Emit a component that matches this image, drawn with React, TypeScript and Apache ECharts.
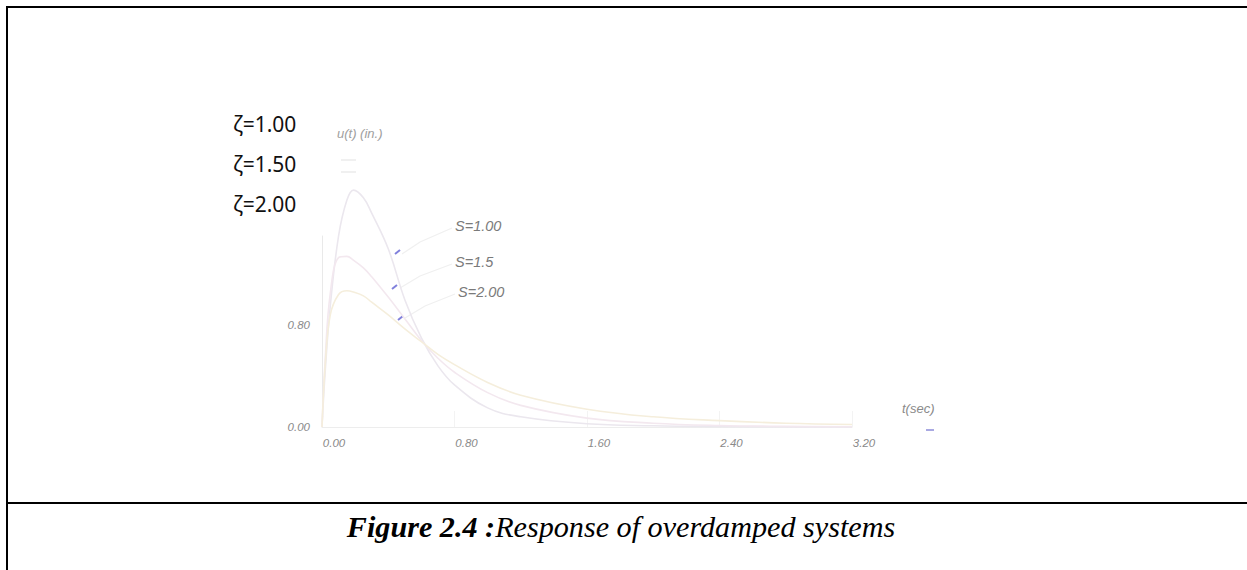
import React, { useEffect, useRef } from "react";
import * as echarts from "echarts";

const tValues = [0, 0.02, 0.05, 0.1, 0.15, 0.19, 0.25, 0.3, 0.4, 0.5, 0.6, 0.7, 0.8, 1.0, 1.2, 1.6, 2.0, 2.4, 2.8, 3.2];
const uS100 = [0, 0.45, 0.95, 1.5, 1.78, 1.86, 1.8, 1.68, 1.4, 1.0, 0.7, 0.48, 0.33, 0.15, 0.08, 0.025, 0.01, 0.004, 0.002, 0];
const uS150 = [0, 0.55, 1.05, 1.33, 1.34, 1.31, 1.25, 1.18, 1.02, 0.85, 0.68, 0.54, 0.43, 0.27, 0.17, 0.07, 0.03, 0.012, 0.005, 0.002];
const uS200 = [0, 0.5, 0.88, 1.04, 1.07, 1.06, 1.03, 0.98, 0.88, 0.77, 0.67, 0.57, 0.49, 0.35, 0.25, 0.14, 0.08, 0.05, 0.03, 0.02];
const seriesNames = ["S=1.00", "S=1.5", "S=2.00"];
const zetaLabels = ["ζ=1.00", "ζ=1.50", "ζ=2.00"];
const xTicks = [0, 0.8, 1.6, 2.4, 3.2];
const yTicks = [0, 0.8];

const pair = (vals: number[]) => tValues.map((t, i) => [t, vals[i]]);

export default function App() {
  const ref = useRef<HTMLDivElement>(null);
  useEffect(() => {
    if (!ref.current) return;
    const chart = echarts.init(ref.current, null, { renderer: "svg" });
    const labelStyle = { fontFamily: "Liberation Sans", fontStyle: "italic", fontSize: 11.5, color: "#8a8a8a" };
    const curveColors = ["#ebe7ee", "#f3e8ef", "#f5eedc"];
    const allSeries = [uS100, uS150, uS200];
    chart.setOption({
      animation: false,
      backgroundColor: "#ffffff",
      grid: { left: 322, top: 236, width: 530, height: 191, containLabel: false },
      xAxis: {
        type: "value",
        min: 0,
        max: 3.2,
        interval: 0.8,
        axisLine: { show: true, lineStyle: { color: "#ededed", width: 1 } },
        axisTick: { show: true, inside: true, length: 16, lineStyle: { color: "#f3f3f3" } },
        splitLine: { show: false },
        axisLabel: {
          ...labelStyle,
          margin: 10,
          padding: [0, 0, 0, 24],
          formatter: (v: number) => (xTicks.includes(Number(v.toFixed(2))) ? v.toFixed(2) : ""),
        },
      },
      yAxis: {
        type: "value",
        min: 0,
        max: 1.5,
        interval: 0.8,
        axisLine: { show: true, lineStyle: { color: "#e9e9e9", width: 1 } },
        axisTick: { show: false },
        splitLine: { show: false },
        axisLabel: {
          ...labelStyle,
          margin: 12,
          formatter: (v: number) => (yTicks.includes(Number(v.toFixed(2))) ? v.toFixed(2) : ""),
        },
      },
      series: allSeries.map((vals, i) => ({
        name: seriesNames[i],
        type: "line",
        data: pair(vals),
        smooth: 0.4,
        showSymbol: false,
        clip: false,
        lineStyle: { color: curveColors[i], width: 1.6 },
      })),
      graphic: [
        { type: "line", shape: { x1: 7, y1: 7, x2: 1247, y2: 7 }, style: { stroke: "#000", lineWidth: 2 } },
        { type: "line", shape: { x1: 7, y1: 6, x2: 7, y2: 570 }, style: { stroke: "#000", lineWidth: 2 } },
        { type: "line", shape: { x1: 7, y1: 503, x2: 1247, y2: 503 }, style: { stroke: "#000", lineWidth: 2 } },
        ...zetaLabels.map((z, i) => ({
          type: "text",
          x: 233,
          y: 124 + i * 40,
          style: { text: z, fontFamily: "Noto Sans", fontSize: 21, fill: "#111", textVerticalAlign: "middle" },
        })),
        { type: "text", x: 337, y: 133, style: { text: "u(t) (in.)", fontFamily: "Liberation Sans", fontStyle: "italic", fontSize: 13, fill: "#a0a0a0", textVerticalAlign: "middle" } },
        { type: "line", shape: { x1: 341, y1: 160, x2: 356, y2: 160 }, style: { stroke: "#f0f0f0", lineWidth: 2 } },
        { type: "line", shape: { x1: 341, y1: 172, x2: 356, y2: 172 }, style: { stroke: "#f0f0f0", lineWidth: 2 } },
        { type: "text", x: 902, y: 408, style: { text: "t(sec)", fontFamily: "Liberation Sans", fontStyle: "italic", fontSize: 13, fill: "#8a8a8a", textVerticalAlign: "middle" } },
        { type: "line", shape: { x1: 926, y1: 430, x2: 934, y2: 430 }, style: { stroke: "#8c8cd8", lineWidth: 1.5 } },
        ...seriesNames.map((s, i) => ({
          type: "text",
          x: [455, 455, 458][i],
          y: [226, 262, 292][i],
          style: { text: s, fontFamily: "Liberation Sans", fontStyle: "italic", fontSize: 14.5, fill: "#7a7a7a", textVerticalAlign: "middle" },
        })),
        { type: "polyline", shape: { points: [[452, 228], [420, 242], [402, 254]] }, style: { stroke: "#f0f0f0", lineWidth: 1.2, fill: "none" } },
        { type: "polyline", shape: { points: [[452, 264], [420, 276], [400, 288]] }, style: { stroke: "#f0f0f0", lineWidth: 1.2, fill: "none" } },
        { type: "polyline", shape: { points: [[455, 294], [425, 306], [405, 318]] }, style: { stroke: "#f0f0f0", lineWidth: 1.2, fill: "none" } },
        { type: "line", shape: { x1: 395, y1: 254, x2: 400, y2: 250 }, style: { stroke: "#8080dc", lineWidth: 2 } },
        { type: "line", shape: { x1: 392, y1: 289, x2: 397, y2: 285 }, style: { stroke: "#8080dc", lineWidth: 2 } },
        { type: "line", shape: { x1: 398, y1: 320, x2: 403, y2: 316 }, style: { stroke: "#8080dc", lineWidth: 2 } },
        {
          type: "text",
          x: 621,
          y: 527,
          scaleX: 1.04,
          style: {
            text: "{b|Figure 2.4 :}{i|Response of overdamped systems}",
            textAlign: "center",
            textVerticalAlign: "middle",
            rich: {
              b: { fontFamily: "Liberation Serif", fontStyle: "italic", fontWeight: "bold", fontSize: 29, fill: "#000" },
              i: { fontFamily: "Liberation Serif", fontStyle: "italic", fontSize: 29, fill: "#000" },
            },
          },
        },
      ],
    });
    return () => chart.dispose();
  }, []);
  return <div ref={ref} style={{ position: "absolute", left: 0, top: 0, width: 1247, height: 570 }} />;
}
